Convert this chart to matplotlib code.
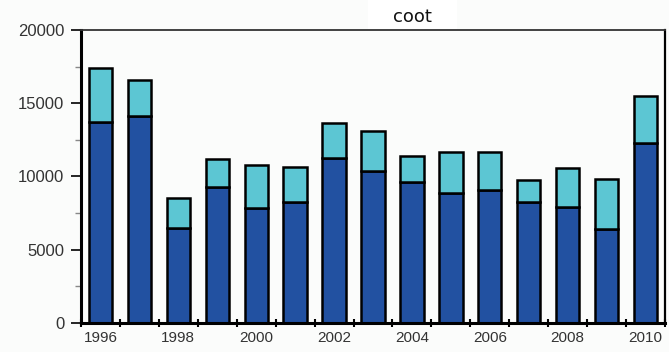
import numpy as np
import matplotlib.pyplot as plt

plt.rcParams['font.family'] = ['Liberation Sans', 'DejaVu Sans']

years = list(range(1996, 2011))
lower = [13750, 14100, 6500, 9250, 7850, 8250, 11250, 10350, 9600, 8850, 9100, 8250, 7950, 6450, 12300]
total = [17400, 16600, 8500, 11200, 10800, 10650, 13650, 13100, 11400, 11650, 11700, 9750, 10600, 9800, 15500]
upper = [t - l for t, l in zip(total, lower)]
tick_labels = [str(y) if y % 2 == 0 else '' for y in years]

fig = plt.figure(figsize=(6.69, 3.52), dpi=100, facecolor='#fbfcfb')
ax = fig.add_axes([81 / 669, 1 - 323 / 352, 584 / 669, 293 / 352])
ax.set_facecolor('#fbfcfb')

x = np.arange(len(years))
ax.bar(x, lower, width=0.6, color='#2251a1', edgecolor='black', linewidth=1.8)
ax.bar(x, upper, bottom=lower, width=0.6, color='#5cc6d3', edgecolor='black', linewidth=1.8)

ax.set_xlim(-0.5, len(years) - 0.5)
ax.set_ylim(0, 20000)

# category ticks at boundaries, labels at centres
ax.set_xticks(np.arange(len(years) + 1) - 0.5)
ax.set_xticklabels([])
ax.set_xticks(x, minor=True)
ax.set_xticklabels(tick_labels, minor=True)
ax.tick_params(axis='x', which='major', direction='inout', length=6, width=1.5)
ax.tick_params(axis='x', which='minor', length=0, pad=6, labelsize=11, labelcolor='#333333')

ax.set_yticks([0, 5000, 10000, 15000, 20000])
ax.set_yticks([2500, 7500, 12500, 17500], minor=True)
ax.tick_params(axis='y', which='major', direction='out', length=7, width=1.2, pad=5,
               labelsize=12, labelcolor='#333333')
ax.tick_params(axis='y', which='minor', direction='out', length=4, width=1, color='#888888')

for s in ['left', 'bottom']:
    ax.spines[s].set_linewidth(2.2)
ax.spines['top'].set_linewidth(1.3)
ax.spines['top'].set_color('#333333')
ax.spines['right'].set_linewidth(1.6)

fig.patches.append(plt.Rectangle((368 / 669, 1 - 29 / 352), 89 / 669, 29 / 352,
                                 transform=fig.transFigure, facecolor='white', edgecolor='none', zorder=5))
fig.text(412 / 669, 1 - 17 / 352, 'coot', ha='center', va='center', fontsize=13, color='#111111',
         family='DejaVu Sans', zorder=6)

fig.savefig('out.png', dpi=100, facecolor=fig.get_facecolor())
